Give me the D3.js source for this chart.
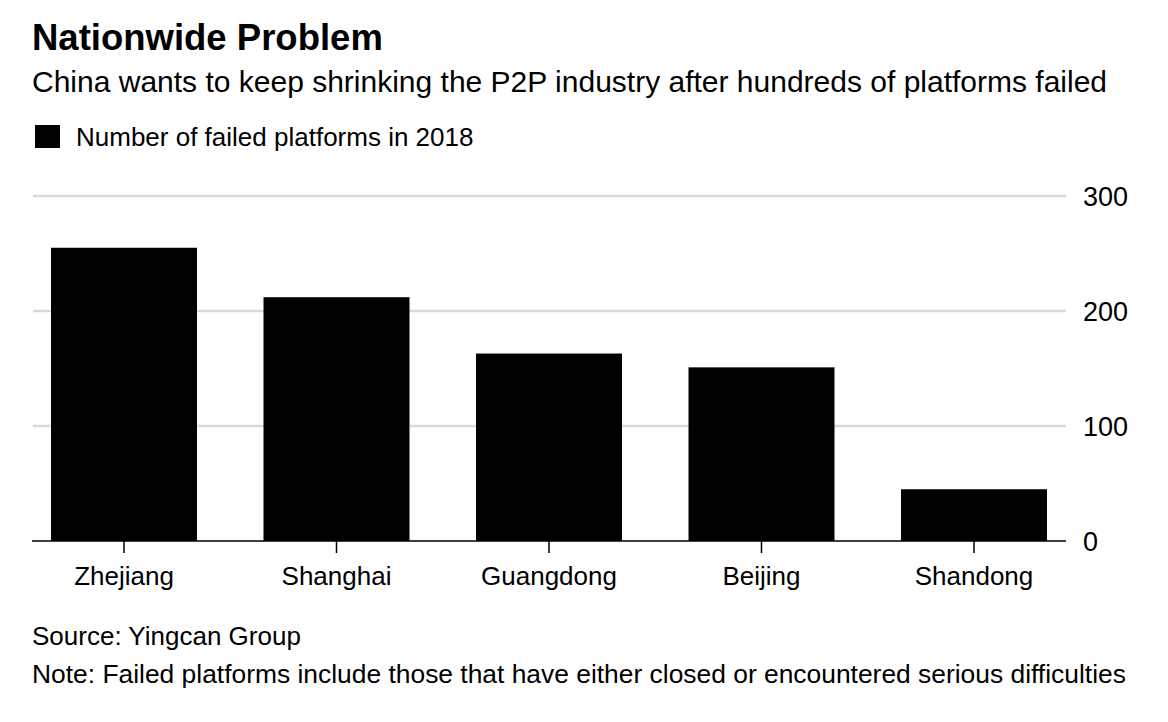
<!DOCTYPE html>
<html>
<head>
<meta charset="utf-8">
<script src="https://cdn.jsdelivr.net/npm/d3@7"></script>
<style>
  html, body { margin: 0; padding: 0; background: #fff; }
  svg { display: block; font-family: "Liberation Sans", Arial, sans-serif; }
</style>
</head>
<body>
<svg id="chart" width="1168" height="722"></svg>
<script>
const categories = ["Zhejiang", "Shanghai", "Guangdong", "Beijing", "Shandong"];
const values = [255, 212, 163, 151, 45];
const yTicks = [0, 100, 200, 300];
const seriesName = "Number of failed platforms in 2018";
const titleText = "Nationwide Problem";
const subtitleText = "China wants to keep shrinking the P2P industry after hundreds of platforms failed";
const sourceText = "Source: Yingcan Group";
const noteText = "Note: Failed platforms include those that have either closed or encountered serious difficulties";

const svg = d3.select("#chart");
const FONT = "Liberation Sans, Arial, sans-serif";

// Title & subtitle
svg.append("text").attr("x", 32).attr("y", 50)
  .attr("font-size", 36.5).attr("font-weight", "bold").attr("fill", "#000")
  .text(titleText);
svg.append("text").attr("x", 32).attr("y", 92)
  .attr("font-size", 30).attr("fill", "#000")
  .text(subtitleText);

// Legend
svg.append("rect").attr("x", 35).attr("y", 125).attr("width", 25).attr("height", 23).attr("fill", "#000");
svg.append("text").attr("x", 76).attr("y", 146)
  .attr("font-size", 26).attr("fill", "#000").text(seriesName);

// Scales
const x = d3.scaleBand().domain(categories).range([51, 1047]).paddingInner(0.313).paddingOuter(0);
const y = d3.scaleLinear().domain([0, 300]).range([541, 196]);

// Gridlines
const grid = svg.append("g");
grid.selectAll("line").data(yTicks.filter(d => d > 0)).enter().append("line")
  .attr("x1", 33).attr("x2", 1066)
  .attr("y1", d => y(d)).attr("y2", d => y(d))
  .attr("stroke", "#d9d9d9").attr("stroke-width", 2.5);

// Y axis on right
const yAxis = d3.axisRight(y).tickValues(yTicks).tickSize(0).tickPadding(0);
const yg = svg.append("g").attr("transform", "translate(1083,0)").call(yAxis);
yg.select(".domain").remove();
yg.selectAll("text").attr("font-size", 27).attr("fill", "#000")
  .attr("font-family", FONT).attr("dy", "0.36em");

// Bars
svg.append("g").selectAll("rect").data(categories).enter().append("rect")
  .attr("x", d => x(d))
  .attr("width", x.bandwidth())
  .attr("y", (d, i) => y(values[i]))
  .attr("height", (d, i) => y(0) - y(values[i]))
  .attr("fill", "#000");

// X axis
const xAxis = d3.axisBottom(x).tickSize(12).tickPadding(14).tickSizeOuter(0);
const xg = svg.append("g").attr("transform", `translate(0,${y(0)})`).call(xAxis);
xg.select(".domain").remove();
xg.append("line").attr("x1", 32).attr("x2", 1066).attr("y1", 0).attr("y2", 0)
  .attr("stroke", "#000").attr("stroke-width", 1.5);
xg.selectAll(".tick line").attr("stroke", "#000").attr("stroke-width", 1.5);
xg.selectAll(".tick text").attr("font-size", 26).attr("fill", "#000")
  .attr("font-family", FONT);

// Footer
svg.append("text").attr("x", 32).attr("y", 645)
  .attr("font-size", 26).attr("fill", "#000").text(sourceText);
svg.append("text").attr("x", 32).attr("y", 683)
  .attr("font-size", 26.4).attr("fill", "#000").text(noteText);
</script>
</body>
</html>
